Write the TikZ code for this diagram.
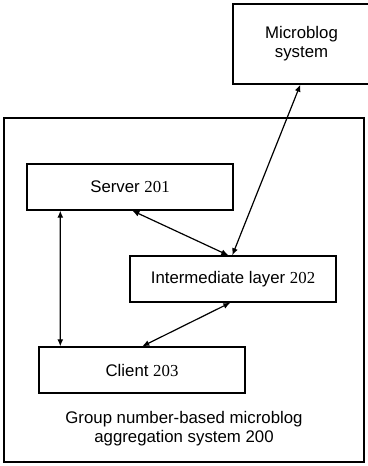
\documentclass[tikz,border=0pt]{standalone}
\usepackage{fontspec}
\setmainfont{Liberation Sans}
\newfontfamily\numfont{Liberation Serif}
\usetikzlibrary{arrows.meta}
\begin{document}
\begin{tikzpicture}[x=1bp,y=-1bp,
  box/.style={draw, line width=1.4bp, inner sep=0pt, align=center, font=\fontsize{16.8bp}{19bp}\selectfont},
  lbl/.style={inner sep=0pt, align=center, font=\fontsize{16.8bp}{19bp}\selectfont},
  dbl/.style={line width=1.2bp, {Latex[length=7bp,width=6bp]}-{Latex[length=7bp,width=6bp]}}]
\useasboundingbox (0,0) rectangle (367,466);
% outer system box
\node[box, minimum width=360bp, minimum height=344bp] (sys) at (184,290) {};
\node[lbl] (syslbl) at (184,429) {Group number-based microblog\\aggregation system 200};
% microblog system
\node[box, minimum width=137bp, minimum height=80bp] (mb) at (301.5,44) {Microblog\\system};
% inner boxes
\node[box, minimum width=206bp, minimum height=46bp] (server) at (130,187) {Server {\numfont 201}};
\node[box, minimum width=206bp, minimum height=46bp] (inter) at (233,279) {Intermediate layer {\numfont 202}};
\node[box, minimum width=206bp, minimum height=46bp] (client) at (142,370) {Client {\numfont 203}};
% connectors
\draw[dbl] ([xshift=34bp]server.south west) -- ([xshift=22bp]client.north west);
\draw[dbl] ([xshift=106bp]server.south west) -- ([xshift=99bp]inter.north west);
\draw[dbl] ([xshift=68bp]mb.south west) -- ([xshift=103bp]inter.north west);
\draw[dbl] ([xshift=101bp]inter.south west) -- ([xshift=104bp]client.north west);
\end{tikzpicture}
\end{document}
